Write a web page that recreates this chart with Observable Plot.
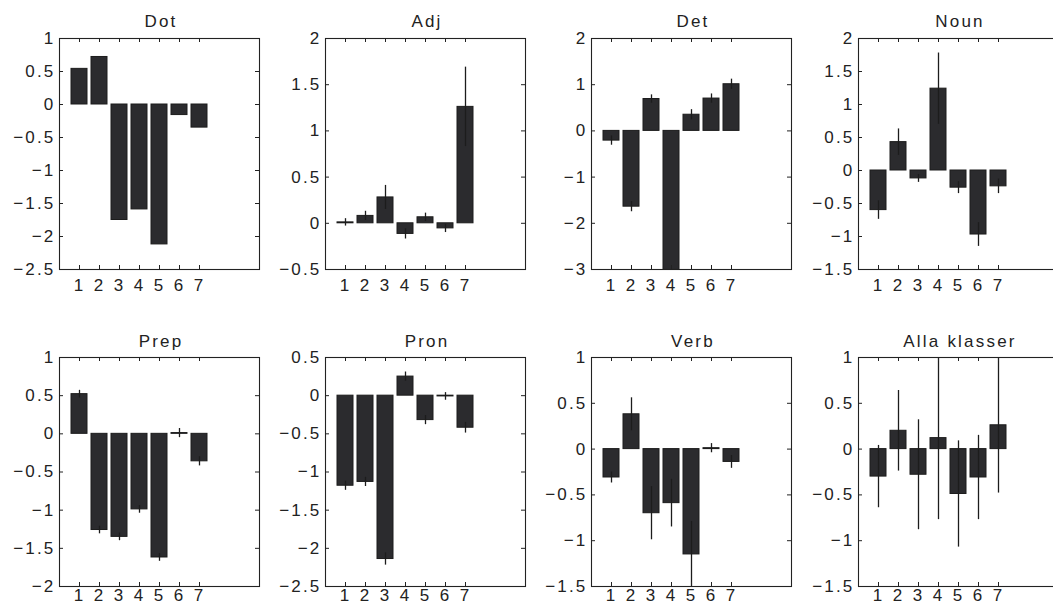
<!DOCTYPE html>
<html><head><meta charset="utf-8">
<script src="https://cdn.jsdelivr.net/npm/d3@7"></script>
<script src="https://cdn.jsdelivr.net/npm/@observablehq/plot@0.6"></script>
<style>
html,body{margin:0;padding:0;background:#fff;overflow:hidden}
#root{position:relative;width:1053px;height:606px;overflow:hidden;font-family:"Liberation Sans",Arial,sans-serif;background:#fff}
.panel{position:absolute}
.panel svg{max-width:none !important}
.title{position:absolute;width:200px;padding-left:2px;text-align:center;font-size:17px;line-height:17px;letter-spacing:2.2px;color:#222;white-space:nowrap}
</style></head><body><div id="root"></div>
<script>
// ---- data ----
const categories = [1, 2, 3, 4, 5, 6, 7];
const panelNames = ["Dot", "Adj", "Det", "Noun", "Prep", "Pron", "Verb", "Alla klasser"];

const dotValues = [0.54, 0.72, -1.75, -1.59, -2.12, -0.16, -0.35];
const dotErrors = [0, 0, 0, 0, 0, 0, 0];
const dotTicks = [-2.5, -2, -1.5, -1, -0.5, 0, 0.5, 1];

const adjValues = [0.01, 0.08, 0.28, -0.115, 0.065, -0.055, 1.26];
const adjErrors = [0.04, 0.05, 0.13, 0.055, 0.045, 0.045, 0.43];
const adjTicks = [-0.5, 0, 0.5, 1, 1.5, 2];

const detValues = [-0.21, -1.64, 0.69, -3.1, 0.35, 0.70, 1.01];
const detErrors = [0.10, 0.11, 0.09, 0.10, 0.11, 0.10, 0.11];
const detTicks = [-3, -2, -1, 0, 1, 2];

const nounValues = [-0.60, 0.43, -0.12, 1.24, -0.26, -0.97, -0.24];
const nounErrors = [0.14, 0.20, 0.06, 0.54, 0.09, 0.18, 0.11];
const nounTicks = [-1.5, -1, -0.5, 0, 0.5, 1, 1.5, 2];

const prepValues = [0.52, -1.26, -1.35, -0.99, -1.62, 0.01, -0.36];
const prepErrors = [0.05, 0.05, 0.05, 0.05, 0.05, 0.06, 0.06];
const prepTicks = [-2, -1.5, -1, -0.5, 0, 0.5, 1];

const pronValues = [-1.18, -1.13, -2.14, 0.25, -0.32, -0.01, -0.42];
const pronErrors = [0.06, 0.06, 0.08, 0.06, 0.06, 0.05, 0.07];
const pronTicks = [-2.5, -2, -1.5, -1, -0.5, 0, 0.5];

const verbValues = [-0.31, 0.38, -0.70, -0.59, -1.15, 0.01, -0.14];
const verbErrors = [0.06, 0.18, 0.29, 0.26, 0.36, 0.05, 0.07];
const verbTicks = [-1.5, -1, -0.5, 0, 0.5, 1];

const allaValues = [-0.30, 0.20, -0.28, 0.12, -0.49, -0.31, 0.26];
const allaErrors = [0.34, 0.44, 0.60, 0.89, 0.58, 0.46, 0.74];
const allaTicks = [-1.5, -1, -0.5, 0, 0.5, 1];

// ---- layout ----
const boxLeft = [59, 325, 591, 858];
const rowTop = [38, 357];
const rowH = [231, 229];
const titleTop = [13, 333];
const xPad = [9, 2];
const boxW = 200;
const ML = 60, MR = 6, MT = 4, MB = 30;

const panels = [
  [dotValues, dotErrors, dotTicks],
  [adjValues, adjErrors, adjTicks],
  [detValues, detErrors, detTicks],
  [nounValues, nounErrors, nounTicks],
  [prepValues, prepErrors, prepTicks],
  [pronValues, pronErrors, pronTicks],
  [verbValues, verbErrors, verbTicks],
  [allaValues, allaErrors, allaTicks]
];

const fmt = d => d === 0 ? "0" : (d < 0 ? "\u2212" : "") + Math.abs(d);
const root = document.getElementById("root");
const ink = "#1c1c1c";

panels.forEach(([vals, errs, ticks], i) => {
  const col = i % 4, row = Math.floor(i / 4);
  const H = rowH[row];
  const data = categories.map((c, j) => ({cat: c, v: vals[j], e: errs[j]}));
  const W = ML + boxW + MR;
  const plot = Plot.plot({
    width: W,
    height: MT + H + MB,
    marginLeft: ML, marginRight: MR, marginTop: MT, marginBottom: MB,
    x: {domain: [0, 10], axis: null},
    y: {domain: d3.extent(ticks), axis: null},
    style: {fontFamily: '"Liberation Sans", Arial, sans-serif', fontSize: "17px", color: "#222", background: "transparent", overflow: "visible", letterSpacing: "2.2px", maxWidth: "none"},
    marks: [
      Plot.rectY(data, {x1: d => d.cat - 0.4, x2: d => d.cat + 0.4, y1: 0, y2: "v", fill: "#2b2b2e", stroke: ink, strokeWidth: 1, clip: true}),
      Plot.ruleX(data.filter(d => d.e > 0), {x: "cat", y1: d => d.v - d.e, y2: d => d.v + d.e, stroke: ink, strokeWidth: 1.3, clip: true}),
      Plot.frame({stroke: "#222", strokeWidth: 1.1}),
      Plot.tickY(ticks, {y: d => d, insetRight: boxW - 4, stroke: "#222"}),
      Plot.tickY(ticks, {y: d => d, insetLeft: boxW - 4, stroke: "#222"}),
      Plot.tickX(categories, {x: d => d, insetTop: H - 4, stroke: "#222"}),
      Plot.tickX(categories, {x: d => d, insetBottom: H - 4, stroke: "#222"}),
      Plot.axisY({ticks: ticks, tickSize: 0, tickPadding: 4, tickFormat: fmt, fill: "#222", label: null}),
      Plot.axisX({ticks: categories, tickSize: 0, tickPadding: xPad[row], tickFormat: d => String(d), fill: "#222", label: null})
    ]
  });
  plot.style.maxWidth = "none";
  const holder = document.createElement("div");
  holder.className = "panel";
  holder.style.left = (boxLeft[col] - ML) + "px";
  holder.style.top = (rowTop[row] - MT) + "px";
  holder.style.width = W + "px";
  holder.appendChild(plot);
  root.appendChild(holder);

  const t = document.createElement("div");
  t.className = "title";
  t.style.left = boxLeft[col] + "px";
  t.style.top = titleTop[row] + "px";
  t.textContent = panelNames[i];
  root.appendChild(t);
});
</script>
</body></html>
